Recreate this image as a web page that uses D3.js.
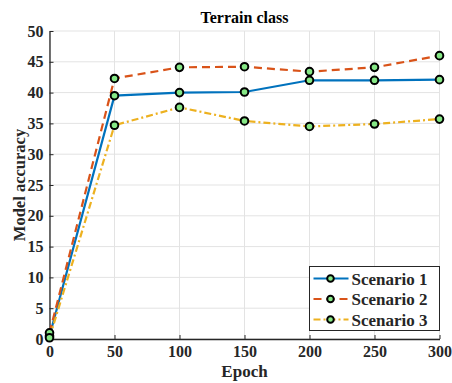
<!DOCTYPE html>
<html>
<head>
<meta charset="utf-8">
<script src="https://cdn.jsdelivr.net/npm/d3@7"></script>
<style>
  body { margin: 0; background: #fff; }
</style>
</head>
<body>
<div id="vis"></div>
<script>
// data
const EPOCHS = [0, 50, 100, 150, 200, 250, 300];
const SCENARIO1 = [0.5, 39.5, 40.0, 40.1, 42.0, 42.0, 42.1];
const SCENARIO2 = [1.0, 42.3, 44.1, 44.2, 43.4, 44.1, 46.0];
const SCENARIO3 = [0.2, 34.7, 37.6, 35.4, 34.5, 34.9, 35.7];
const SERIES_NAMES = ["Scenario 1", "Scenario 2", "Scenario 3"];
const X_TICKS = [0, 50, 100, 150, 200, 250, 300];
const Y_TICKS = [0, 5, 10, 15, 20, 25, 30, 35, 40, 45, 50];

const FONT = "'Liberation Serif', 'Times New Roman', Times, serif";

const FRAME_WIDTH = 452;
const FRAME_HEIGHT = 383;
const MARGINS = {left: 49.5, right: 12.5, top: 31, bottom: 44};
const VIS_WIDTH = FRAME_WIDTH - MARGINS.left - MARGINS.right;
const VIS_HEIGHT = FRAME_HEIGHT - MARGINS.top - MARGINS.bottom;

const COLORS = ["#0072BD", "#D95319", "#EDB120"];
const DASHES = [null, "8,5", "7,3,2,3"];

const FRAME = d3.select("#vis")
  .append("svg")
    .attr("width", FRAME_WIDTH)
    .attr("height", FRAME_HEIGHT)
    .style("font-family", FONT)
    .style("font-weight", "bold");

const X = d3.scaleLinear().domain([0, 300]).range([MARGINS.left, MARGINS.left + VIS_WIDTH]);
const Y = d3.scaleLinear().domain([0, 50]).range([MARGINS.top + VIS_HEIGHT, MARGINS.top]);

// grid
FRAME.append("g")
  .selectAll("line")
  .data(X_TICKS)
  .enter().append("line")
    .attr("x1", d => X(d)).attr("x2", d => X(d))
    .attr("y1", Y(0)).attr("y2", Y(50))
    .attr("stroke", "#e3e3e3").attr("stroke-width", 1);
FRAME.append("g")
  .selectAll("line")
  .data(Y_TICKS)
  .enter().append("line")
    .attr("x1", X(0)).attr("x2", X(300))
    .attr("y1", d => Y(d)).attr("y2", d => Y(d))
    .attr("stroke", "#e3e3e3").attr("stroke-width", 1);

// axes (ticks pointing inward like matlab)
const xAxis = FRAME.append("g")
  .attr("transform", "translate(0," + Y(0) + ")")
  .call(d3.axisBottom(X).tickValues(X_TICKS).tickSizeInner(-4).tickSizeOuter(0).tickPadding(7));
const yAxis = FRAME.append("g")
  .attr("transform", "translate(" + X(0) + ",0)")
  .call(d3.axisLeft(Y).tickValues(Y_TICKS).tickSizeInner(-4).tickSizeOuter(0).tickPadding(6));
[xAxis, yAxis].forEach(a => {
  a.attr("font-family", FONT).attr("font-size", 16).attr("font-weight", "bold");
  a.select(".domain").attr("stroke", "#262626").attr("stroke-width", 1.3);
  a.selectAll(".tick line").attr("stroke", "#262626");
  a.selectAll("text")
    .style("font-family", FONT)
    .style("font-weight", "bold")
    .attr("font-size", "16px")
    .attr("fill", "#262626");
});

// lines
const ALL = [SCENARIO1, SCENARIO2, SCENARIO3];
const line = d3.line().x((d, i) => X(EPOCHS[i])).y(d => Y(d));
ALL.forEach((s, k) => {
  FRAME.append("path")
    .datum(s)
    .attr("d", line)
    .attr("fill", "none")
    .attr("stroke", COLORS[k])
    .attr("stroke-width", 2.2)
    .attr("stroke-dasharray", DASHES[k]);
});
ALL.forEach((s, k) => {
  FRAME.append("g").selectAll("circle")
    .data(s)
    .enter().append("circle")
      .attr("cx", (d, i) => X(EPOCHS[i]))
      .attr("cy", d => Y(d))
      .attr("r", 3.8)
      .attr("fill", "#86E886")
      .attr("stroke", "#000")
      .attr("stroke-width", 2);
});

// title and labels
function label(x, y, size, txt, col) {
  return FRAME.append("text")
    .attr("x", x).attr("y", y)
    .attr("text-anchor", "middle")
    .style("font-family", FONT)
    .style("font-weight", "bold")
    .attr("font-size", size)
    .attr("fill", col || "#262626")
    .text(txt);
}
label(X(150), 23, "16px", "Terrain class", "#000");
label(X(150), 377, "17px", "Epoch");
label(0, 0, "16.5px", "Model accuracy")
  .attr("transform", "translate(25," + Y(25) + ") rotate(-90)");

// legend
const LEG = {x: 309.5, y: 266.5, w: 130, h: 64};
FRAME.append("rect")
  .attr("x", LEG.x).attr("y", LEG.y)
  .attr("width", LEG.w).attr("height", LEG.h)
  .attr("fill", "#fff")
  .attr("stroke", "#262626").attr("stroke-width", 1);
SERIES_NAMES.forEach((name, k) => {
  const cy = LEG.y + 12 + k * 20.5;
  FRAME.append("line")
    .attr("x1", LEG.x + 4).attr("x2", LEG.x + 39)
    .attr("y1", cy).attr("y2", cy)
    .attr("stroke", COLORS[k]).attr("stroke-width", 2.2)
    .attr("stroke-dasharray", DASHES[k]);
  FRAME.append("circle")
    .attr("cx", LEG.x + 21).attr("cy", cy).attr("r", 3.3)
    .attr("fill", "#86E886").attr("stroke", "#000").attr("stroke-width", 2);
  label(LEG.x + 42, cy + 6, "17px", name).attr("text-anchor", "start");
});
</script>
</body>
</html>
